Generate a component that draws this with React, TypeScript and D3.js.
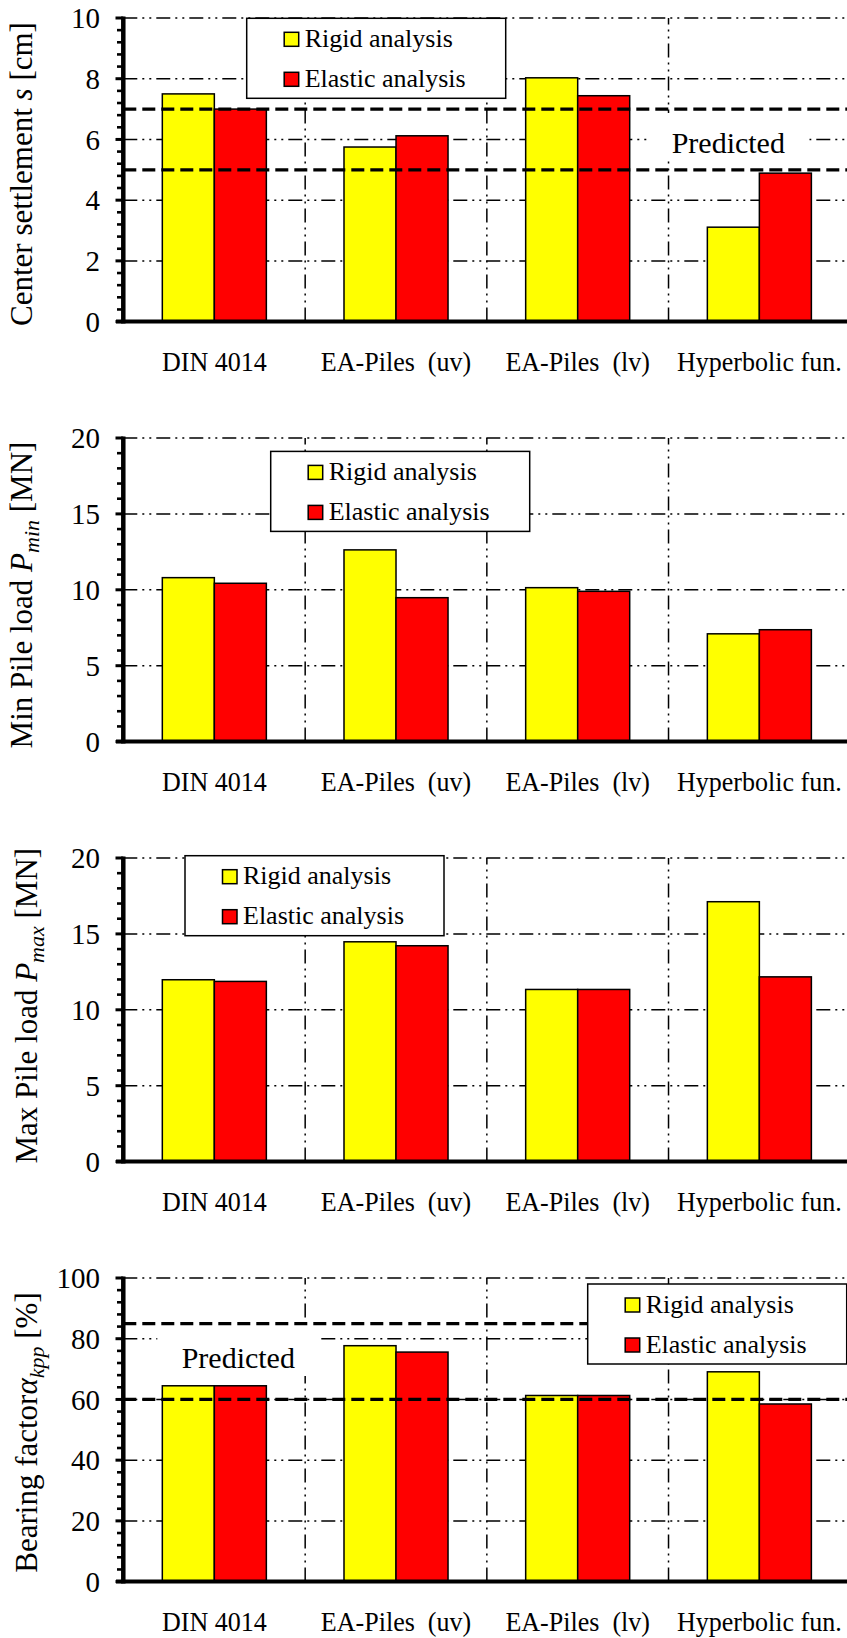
import React from "react";
import * as d3 from "d3";

// ---------- data ----------
const categories = ["DIN 4014", "EA-Piles  (uv)", "EA-Piles  (lv)", "Hyperbolic fun."];
const seriesNames = ["Rigid analysis", "Elastic analysis"];
const seriesColors = ["#FFFF00", "#FF0000"];

const settlementRigid = [7.5, 5.75, 8.03, 3.11];
const settlementElastic = [7.0, 6.12, 7.44, 4.89];
const minLoadRigid = [10.8, 12.63, 10.14, 7.1];
const minLoadElastic = [10.43, 9.48, 9.9, 7.37];
const maxLoadRigid = [11.98, 14.48, 11.34, 17.12];
const maxLoadElastic = [11.87, 14.22, 11.34, 12.17];
const bearingRigid = [64.5, 77.7, 61.3, 69.1];
const bearingElastic = [64.5, 75.6, 61.3, 58.5];

const settlementPredicted = [5, 7];
const bearingPredicted = [60, 85];

const settlementTicks = [0, 2, 4, 6, 8, 10];
const minLoadTicks = [0, 5, 10, 15, 20];
const maxLoadTicks = [0, 5, 10, 15, 20];
const bearingTicks = [0, 20, 40, 60, 80, 100];

type Part = { t: string; it?: boolean; sub?: boolean };

const panels = [
  {
    rigid: settlementRigid,
    elastic: settlementElastic,
    ticks: settlementTicks,
    predicted: settlementPredicted,
    title: [{ t: "Center settlement " }, { t: "s", it: true }, { t: " [cm]" }] as Part[],
  },
  {
    rigid: minLoadRigid,
    elastic: minLoadElastic,
    ticks: minLoadTicks,
    predicted: [] as number[],
    title: [{ t: "Min Pile load " }, { t: "P", it: true }, { t: "min", it: true, sub: true }, { t: " [MN]" }] as Part[],
  },
  {
    rigid: maxLoadRigid,
    elastic: maxLoadElastic,
    ticks: maxLoadTicks,
    predicted: [] as number[],
    title: [{ t: "Max Pile load " }, { t: "P", it: true }, { t: "max", it: true, sub: true }, { t: " [MN]" }] as Part[],
  },
  {
    rigid: bearingRigid,
    elastic: bearingElastic,
    ticks: bearingTicks,
    predicted: bearingPredicted,
    title: [{ t: "Bearing factor" }, { t: "\u03B1", it: true }, { t: "kpp", it: true, sub: true }, { t: " [%]" }] as Part[],
  },
];

// ---------- layout ----------
const W = 847;
const H = 1638;
const FONT = "'Liberation Serif', 'Times New Roman', Times, serif";
const plotLeft = 123.5;
const plotRight = 850.2;
const axisX = 123.3;
const panelTop0 = 18;
const panelStep = 420;
const plotH = 303.6;

const layout = [
  { titleX: 32, titleCy: 174, legendX: 246.7, legendDy: 0.3, predX: 728.3, predDy: 153 - 18 },
  { titleX: 32, titleCy: 595, legendX: 270.7, legendDy: 13.4, predX: 0, predDy: 0 },
  { titleX: 37, titleCy: 1005.7, legendX: 185, legendDy: -2.3, predX: 0, predDy: 0 },
  { titleX: 37, titleCy: 1432.5, legendX: 587.7, legendDy: 6, predX: 238.3, predDy: 1368 - 1278 },
];

const gridDash = "14,5,2,5,2,5";

function Panel({ idx }: { idx: number }) {
  const p = panels[idx];
  const L = layout[idx];
  const top = panelTop0 + panelStep * idx;
  const bottom = top + plotH;
  const yMax = p.ticks[p.ticks.length - 1];
  const y = d3.scaleLinear().domain([0, yMax]).range([bottom, top]);
  const x0 = d3.scaleBand<string>().domain(categories).range([plotLeft, plotRight]).padding(0);
  const bw = x0.bandwidth();
  const x1 = d3.scaleBand<string>().domain(seriesNames).range([bw * 0.2137, bw * 0.7863]).padding(0);
  const step = p.ticks[1] - p.ticks[0];
  const minorTicks = d3.range(0, yMax + 1e-9, step / 5);
  const seriesVals = [p.rigid, p.elastic];

  return (
    <g>
      {/* horizontal grid lines */}
      {p.ticks.filter((t) => t > 0).map((t) => (
        <line key={"h" + t} x1={axisX} x2={W} y1={y(t)} y2={y(t)} stroke="#000" strokeWidth={1.5} strokeDasharray={gridDash} />
      ))}
      {/* vertical dividers */}
      {categories.slice(1).map((c) => (
        <line key={"v" + c} x1={x0(c)!} x2={x0(c)!} y1={bottom} y2={top} stroke="#000" strokeWidth={1.5} strokeDasharray={gridDash} />
      ))}
      {/* predicted label */}
      {p.predicted.length > 0 && (
        <g>
          <rect x={L.predX - 81} y={top + L.predDy - 40} width={162} height={48} fill="#fff" />
          <text x={L.predX} y={top + L.predDy} textAnchor="middle" fontSize={30} fontFamily={FONT}>
            Predicted
          </text>
        </g>
      )}
      {/* bars */}
      {categories.map((c, ci) =>
        seriesNames.map((s, si) => {
          const v = seriesVals[si][ci];
          return (
            <rect
              key={c + s}
              x={x0(c)! + x1(s)!}
              y={y(v)}
              width={x1.bandwidth()}
              height={y(0) - y(v)}
              fill={seriesColors[si]}
              stroke="#000"
              strokeWidth={1.5}
            />
          );
        })
      )}
      {/* predicted dashed lines */}
      {p.predicted.map((v) => (
        <line key={"p" + v} x1={axisX} x2={W} y1={y(v)} y2={y(v)} stroke="#000" strokeWidth={3.2} strokeDasharray="13,6" />
      ))}
      {/* axes */}
      <line x1={axisX} x2={axisX} y1={top - 1.5} y2={bottom + 2} stroke="#000" strokeWidth={4.5} />
      <line x1={116} x2={W} y1={bottom} y2={bottom} stroke="#000" strokeWidth={4} />
      {minorTicks.map((t, i) => (
        <line key={"m" + i} x1={i % 5 === 0 ? 115.5 : 117} x2={axisX} y1={y(t)} y2={y(t)} stroke="#000" strokeWidth={i % 5 === 0 ? 3 : 2.6} />
      ))}
      {p.ticks.map((t) => (
        <text key={"t" + t} x={100} y={y(t)} dy="0.35em" textAnchor="end" fontSize={29} fontFamily={FONT}>
          {t}
        </text>
      ))}
      {/* category labels */}
      {categories.map((c) => (
        <text
          key={"c" + c}
          transform={`translate(${x0(c)! + bw / 2},${bottom + 49}) scale(0.93,1)`}
          textAnchor="middle"
          fontSize={28}
          fontFamily={FONT}
          style={{ whiteSpace: "pre" }}
        >
          {c}
        </text>
      ))}
      {/* y title */}
      <text
        transform={`translate(${L.titleX},${L.titleCy}) rotate(-90)`}
        textAnchor="middle"
        fontSize={31}
        fontFamily={FONT}
      >
        {p.title.map((part, k) => (
          <tspan
            key={k}
            fontStyle={part.it ? "italic" : "normal"}
            fontSize={part.sub ? 22 : 31}
            dy={part.sub ? 7 : k > 0 && p.title[k - 1].sub ? -7 : 0}
          >
            {part.t}
          </tspan>
        ))}
      </text>
      {/* legend */}
      <g transform={`translate(${L.legendX},${top + L.legendDy})`}>
        <rect x={0} y={0} width={259} height={80} fill="#fff" stroke="#000" strokeWidth={1.5} />
        {seriesNames.map((s, si) => (
          <g key={"l" + s} transform={`translate(0,${si * 40})`}>
            <rect x={37.5} y={14} width={14.5} height={14} fill={seriesColors[si]} stroke="#000" strokeWidth={1.5} />
            <text x={58} y={28.5} fontSize={26} fontFamily={FONT}>
              {s}
            </text>
          </g>
        ))}
      </g>
    </g>
  );
}

export default function App() {
  return (
    <svg
      width={W}
      height={H}
      viewBox={`0 0 ${W} ${H}`}
      style={{ position: "absolute", left: 0, top: 0, background: "#fff" }}
    >
      <rect x={0} y={0} width={W} height={H} fill="#fff" />
      {panels.map((_, i) => (
        <Panel key={i} idx={i} />
      ))}
    </svg>
  );
}
